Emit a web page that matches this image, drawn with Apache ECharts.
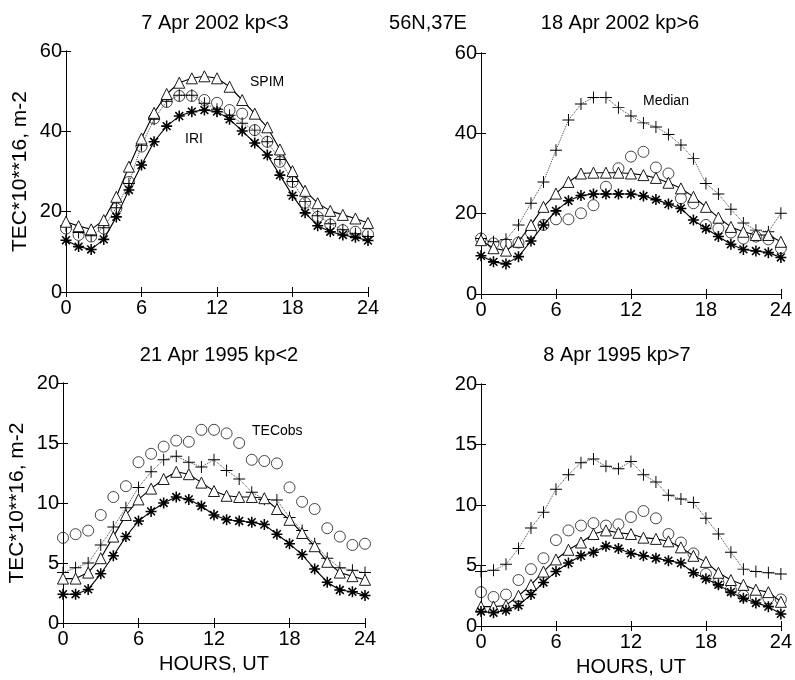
<!DOCTYPE html>
<html><head><meta charset="utf-8">
<script src="https://cdn.jsdelivr.net/npm/echarts@6/dist/echarts.min.js"></script>
<style>html,body{margin:0;padding:0;background:#fff}#c{width:795px;height:680px}</style>
</head><body><div id="c"></div>
<script>
const hours = [0,1,2,3,4,5,6,7,8,9,10,11,12,13,14,15,16,17,18,19,20,21,22,23,24];
const xTicks = [0,6,12,18,24];

// Panel 1: 7 Apr 2002 kp<3
const p1Spim = [17.5,16.4,15.6,17.9,23.7,31.2,38.2,44.6,49.3,52.1,53.2,53.7,53.2,51.1,47.8,44.4,41,35.5,30.1,25.2,22.1,20.2,19.2,18.3,17.2];
const p1Iri  = [12.9,11.3,10.6,13.1,18.7,25.4,31.6,37.4,41.3,43.8,44.9,45.3,44.9,43,40.1,37.1,34.1,29.1,24,19.7,16.5,15,14.2,13.6,12.8];
const p1Obs  = [15.8,14.2,13.8,15.8,20.8,27.4,36.2,43.2,47.3,48.8,48.8,47.8,47.1,45.3,44.4,40.3,37.4,32.4,27.4,22.2,18.7,16.8,15.4,15,14.4];
const p1Med  = [16.5,14.8,14,16,21,27,36.5,43,47.5,49,49,47,45.5,44,42,40.3,37.4,33,27.5,22.5,19,17,15.5,14.5,13.8];
// Panel 2: 18 Apr 2002 kp>6
const p2Spim = [13.4,11.4,10.8,13,17.2,21.7,25,27.9,30,30.2,30.2,30.2,30,29.6,28.9,27.7,26.3,24.2,21.7,19,16.7,15.5,14.7,14.7,13];
const p2Iri  = [9.5,8,7.5,9.3,13.2,17.2,20.7,23.2,24.5,24.9,24.9,24.9,24.9,24.4,23.5,22.4,21.3,18.4,16.3,14.3,12.4,11.1,10.7,10.3,9.1];
const p2Obs  = [13.8,12.6,12.4,12.8,15.3,17.2,18.6,18.6,20.1,22.1,26.7,31.3,34.2,35.4,31.5,30,23.8,22.6,17.2,16.3,15.3,13.8,14.3,13.6,11.4];
const p2Med  = [13.8,13,13.6,17.2,22.6,27.9,35.8,43.3,47.3,48.9,48.9,46.4,44.3,42.6,41.6,39.7,37.1,33.7,27.5,24.9,21.1,17.7,15.9,15.5,20.1];
// Panel 3: 21 Apr 1995 kp<2
const p3Spim = [3.7,3.7,4.2,5.4,7.2,9,10.3,11.2,12,12.6,12.4,11.7,11,10.6,10.5,10.5,10.4,9.5,8.6,7.5,6.4,5.1,4.2,3.9,3.6];
const p3Iri  = [2.4,2.4,2.8,4.1,5.6,7.2,8.5,9.3,10,10.5,10.3,9.75,9,8.6,8.5,8.4,8.2,7.4,6.6,5.7,4.5,3.4,2.75,2.6,2.3];
const p3Obs  = [7.1,7.4,7.7,9,10.5,11.4,13.4,14.1,14.7,15.2,15.1,16.1,16.1,15.8,15,13.6,13.5,13.3,11.3,10.1,9.5,7.9,7.2,6.5,6.6];
const p3Med  = [4.2,4.6,5,6.5,8,9.6,11.3,12.6,13.6,13.9,13.4,13,13.6,12.7,12,10.9,10.3,10.25,8.8,7.7,6.6,5.4,4.6,4.4,4.2];
// Panel 4: 8 Apr 1995 kp>7
const p4Spim = [1.6,1.6,1.7,2.5,3.4,4.5,5.5,6.3,6.9,7.6,7.9,7.7,7.6,7.3,7.2,7,6.5,5.8,5.3,4.4,3.8,3.4,3,2.8,2];
const p4Iri  = [1.2,1.1,1.3,1.7,2.6,3.6,4.5,5.2,5.8,6.1,6.6,6.4,6,5.8,5.6,5.4,5.2,4.4,3.9,3.4,2.8,2.3,1.9,1.6,1];
const p4Obs  = [2.8,2.4,2.6,3.8,4.7,5.6,7.1,7.9,8.3,8.5,8.3,8.4,9,9.5,8.9,7.6,6.9,6,4.3,3.6,3,2.5,2.4,2.3,2.2];
const p4Med  = [4.5,4.6,5.1,6.4,8.1,9.4,11.3,12.5,13.5,13.8,13.2,13,13.6,12.5,11.9,10.8,10.5,10.2,8.9,7.6,6.1,4.7,4.5,4.4,4.3];

const titles = ['7 Apr 2002 kp<3','18 Apr 2002 kp>6','21 Apr 1995 kp<2','8 Apr 1995 kp>7'];
const centerTitle = '56N,37E';
const yMax = [60,60,20,20];
const yStep = [20,20,5,5];
const yName = 'TEC*10**16, m-2';
const xName = 'HOURS, UT';

const panels = [
  {spim:p1Spim, iri:p1Iri, obs:p1Obs, med:p1Med},
  {spim:p2Spim, iri:p2Iri, obs:p2Obs, med:p2Med},
  {spim:p3Spim, iri:p3Iri, obs:p3Obs, med:p3Med},
  {spim:p4Spim, iri:p4Iri, obs:p4Obs, med:p4Med}
];

const grids = [
  {left:66, top:51, width:302, height:241},
  {left:481, top:53, width:304, height:241},
  {left:63, top:383, width:302, height:240},
  {left:481, top:384, width:304, height:242}
];

const FONT = 'Liberation Sans';
const ASTER = 'path://M-1.4,-10L1.4,-10L1.4,10L-1.4,10Z M-10,-1.4L10,-1.4L10,1.4L-10,1.4Z M-8.1,-6.1L-6.1,-8.1L8.1,6.1L6.1,8.1Z M6.1,-8.1L8.1,-6.1L-6.1,8.1L-8.1,6.1Z';
const PLUS = 'path://M-0.8,-10L0.8,-10L0.8,10L-0.8,10Z M-10,-0.8L10,-0.8L10,0.8L-10,0.8Z';

const pair = arr => hours.map((h,i)=>[h,arr[i]]);

const xAxes = [], yAxes = [], series = [];
grids.forEach((g,i)=>{
  const bottomRow = i>=2;
  xAxes.push({gridIndex:i, type:'value', min:0, max:24, interval:6, position:'bottom',
    axisLine:{lineStyle:{color:'#000',width:1}}, axisTick:{inside:true,length:5,lineStyle:{color:'#000'}},
    axisLabel:{color:'#000',fontFamily:FONT,fontSize:20,margin:6,formatter:v=>String(v)},
    splitLine:{show:false},
    name: bottomRow ? xName : '', nameLocation:'middle', nameGap:31,
    nameTextStyle:{color:'#000',fontFamily:FONT,fontSize:20}});
  xAxes.push({gridIndex:i, type:'value', min:0, max:24, interval:6, position:'top',
    axisLine:{lineStyle:{color:'#000',width:1}}, axisTick:{inside:true,length:5,lineStyle:{color:'#000'}},
    axisLabel:{show:false}, splitLine:{show:false}});
  yAxes.push({gridIndex:i, type:'value', min:0, max:yMax[i], interval:yStep[i], position:'left',
    axisLine:{show:true,lineStyle:{color:'#000',width:1}}, axisTick:{show:true,inside:true,length:5,lineStyle:{color:'#000'}},
    axisLabel:{color:'#000',fontFamily:FONT,fontSize:20,margin:4},
    splitLine:{show:false},
    name: (i%2===0) ? yName : '', nameLocation:'middle', nameGap:35, nameRotate:90,
    nameTextStyle:{color:'#000',fontFamily:FONT,fontSize:21}});
  yAxes.push({gridIndex:i, type:'value', min:0, max:yMax[i], interval:yStep[i], position:'right',
    axisLine:{show:true,lineStyle:{color:'#000',width:1}}, axisTick:{show:true,inside:true,length:5,lineStyle:{color:'#000'}},
    axisLabel:{show:false}, splitLine:{show:false}});
  const p = panels[i];
  const xi = i*2, yi = i*2;
  series.push({type:'line', xAxisIndex:xi, yAxisIndex:yi, data:pair(p.med), symbol:PLUS, symbolSize:12,
    itemStyle:{color:'#000'}, lineStyle:{color:'#444',width:1,type:'dotted'}, z:2, silent:true, animation:false});
  series.push({type:'scatter', xAxisIndex:xi, yAxisIndex:yi, data:pair(p.obs), symbol:'circle', symbolSize:11,
    itemStyle:{color:'rgba(255,255,255,0)',borderColor:'#000',borderWidth:0.9}, z:3, silent:true, animation:false});
  series.push({type:'line', xAxisIndex:xi, yAxisIndex:yi, data:pair(p.spim), symbol:'triangle', symbolSize:11,
    itemStyle:{color:'#fff',borderColor:'#000',borderWidth:0.9}, lineStyle:{color:'#000',width:1.1}, z:4, silent:true, animation:false});
  series.push({type:'line', xAxisIndex:xi, yAxisIndex:yi, data:pair(p.iri), symbol:ASTER, symbolSize:11,
    itemStyle:{color:'#000'}, lineStyle:{color:'#000',width:1.1}, z:5, silent:true, animation:false});
});

const titleStyle = {color:'#000',fontFamily:FONT,fontSize:20,fontWeight:'normal'};
const option = {
  backgroundColor:'#fff',
  animation:false,
  title:[
    {text:titles[0], left:210, top:8, textAlign:'center', textStyle:titleStyle},
    {text:centerTitle, left:423, top:8, textAlign:'center', textStyle:titleStyle},
    {text:titles[1], left:615, top:8, textAlign:'center', textStyle:titleStyle},
    {text:titles[2], left:214, top:340, textAlign:'center', textStyle:titleStyle},
    {text:titles[3], left:612, top:340, textAlign:'center', textStyle:titleStyle}
  ],
  grid:grids,
  xAxis:xAxes,
  yAxis:yAxes,
  series:series,
  graphic:[
    {type:'text', left:250, top:75, style:{text:'SPIM', fill:'#000', font:'14px "Liberation Sans"'}},
    {type:'text', left:185, top:132, style:{text:'IRI', fill:'#000', font:'14px "Liberation Sans"'}},
    {type:'text', left:643, top:94, style:{text:'Median', fill:'#000', font:'14px "Liberation Sans"'}},
    {type:'text', left:252, top:424, style:{text:'TECobs', fill:'#000', font:'14px "Liberation Sans"'}}
  ]
};
const chart = echarts.init(document.getElementById('c'), null, {renderer:'canvas'});
chart.setOption(option);
</script>
</body></html>
